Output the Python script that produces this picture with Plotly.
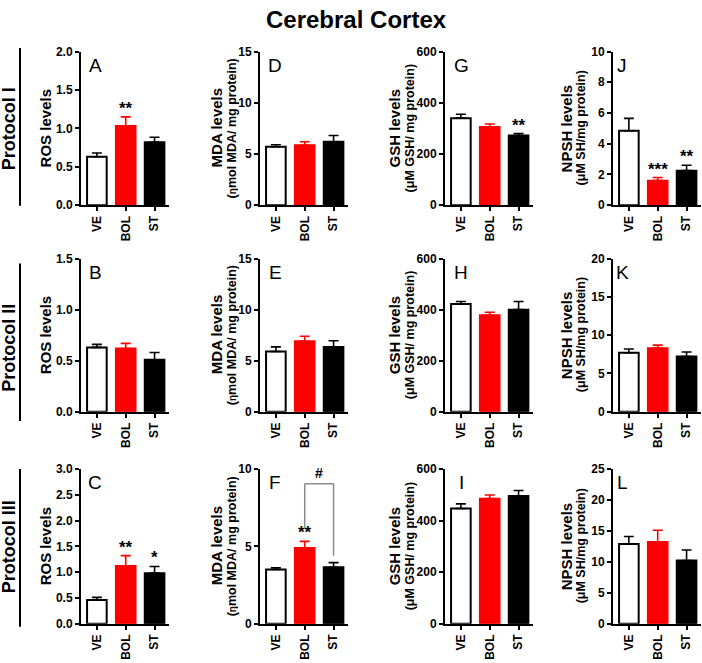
import plotly.graph_objects as go

# ---------------- data ----------------
categories = ["VE", "BOL", "ST"]

# Protocol I
ros_p1 = [0.63, 1.03, 0.82]
ros_p1_err = [0.05, 0.12, 0.065]
mda_p1 = [5.7, 5.85, 6.2]
mda_p1_err = [0.2, 0.35, 0.6]
gsh_p1 = [340, 305, 272]
gsh_p1_err = [15, 12, 8]
npsh_p1 = [4.85, 1.6, 2.25]
npsh_p1_err = [0.8, 0.2, 0.35]

# Protocol II
ros_p2 = [0.63, 0.62, 0.51]
ros_p2_err = [0.03, 0.05, 0.07]
mda_p2 = [5.9, 6.9, 6.35]
mda_p2_err = [0.45, 0.5, 0.6]
gsh_p2 = [422, 378, 400]
gsh_p2_err = [10, 12, 32]
npsh_p2 = [7.7, 8.3, 7.2]
npsh_p2_err = [0.5, 0.4, 0.6]

# Protocol III
ros_p3 = [0.46, 1.12, 0.98]
ros_p3_err = [0.05, 0.2, 0.13]
mda_p3 = [3.5, 4.9, 3.65]
mda_p3_err = [0.12, 0.42, 0.3]
gsh_p3 = [447, 485, 495]
gsh_p3_err = [18, 14, 22]
npsh_p3 = [12.9, 13.2, 10.2]
npsh_p3_err = [1.2, 1.9, 1.7]

# significance marks per panel letter: (category, text)
stars_A = [("BOL", "**")]
stars_G = [("ST", "**")]
stars_J = [("BOL", "***"), ("ST", "**")]
stars_C = [("BOL", "**"), ("ST", "*")]
stars_F = [("BOL", "**")]

protocol_labels = ["Protocol I", "Protocol II", "Protocol III"]
panel_letters = [["A", "D", "G", "J"], ["B", "E", "H", "K"], ["C", "F", "I", "L"]]

# ---------------- layout geometry ----------------
W, H = 702, 663
FONT = "Liberation Sans, Arial, sans-serif"
col_x0 = [81, 260, 445, 613]
col_w = 88
row_top = [45.5, 257, 472]
row_bot = [202.5, 413.5, 630]

bar_fill = ["white", "#ff0000", "black"]
bar_edge = ["black", "#ff0000", "black"]
err_col = ["black", "#ff0000", "black"]


def px(xp):
    return xp / W


def py(yp):
    return 1 - yp / H


# panel spec: (values, errors, ymax, dtick, tickfmt, stars)
grid = [
    [(ros_p1, ros_p1_err, 2.0, 0.5, ".1f", stars_A),
     (mda_p1, mda_p1_err, 15, 5, "d", []),
     (gsh_p1, gsh_p1_err, 600, 200, "d", stars_G),
     (npsh_p1, npsh_p1_err, 10, 2, "d", stars_J)],
    [(ros_p2, ros_p2_err, 1.5, 0.5, ".1f", []),
     (mda_p2, mda_p2_err, 15, 5, "d", []),
     (gsh_p2, gsh_p2_err, 600, 200, "d", []),
     (npsh_p2, npsh_p2_err, 20, 5, "d", [])],
    [(ros_p3, ros_p3_err, 3.0, 0.5, ".1f", stars_C),
     (mda_p3, mda_p3_err, 10, 5, "d", stars_F),
     (gsh_p3, gsh_p3_err, 600, 200, "d", []),
     (npsh_p3, npsh_p3_err, 25, 5, "d", [])],
]

ytitle_main = ["ROS levels", "MDA levels", "GSH levels", "NPSH levels"]
ytitle_sub = [None,
              "(<span style='font-size:10px'>η</span>mol MDA/ mg protein)",
              "(μM GSH/ mg protein)",
              "(μM SH/mg protein)"]
ytitle_x_main = [45, 216, 394, 566]
ytitle_x_sub = [None, 232, 410, 581]
letter_dx = [14, 15, 16, 9]

fig = go.Figure()
layout = dict(
    width=W, height=H,
    margin=dict(l=0, r=0, t=0, b=0),
    paper_bgcolor="white", plot_bgcolor="white",
    showlegend=False, barmode="overlay",
    font=dict(family=FONT, color="black"),
)
annotations = []
shapes = []

n = 0
for r in range(3):
    for c in range(4):
        n += 1
        vals, errs, ymax, dtick, fmt, stars = grid[r][c]
        xa = "x" if n == 1 else f"x{n}"
        ya = "y" if n == 1 else f"y{n}"
        for i, cat in enumerate(categories):
            fig.add_trace(go.Bar(
                x=[cat], y=[vals[i]], width=0.68,
                marker=dict(color=bar_fill[i], line=dict(color=bar_edge[i], width=2)),
                error_y=dict(type="data", array=[errs[i]], arrayminus=[0],
                             symmetric=False, color=err_col[i], thickness=1.6, width=5),
                xaxis=xa, yaxis=ya, hoverinfo="skip",
            ))
        x0 = col_x0[c]
        layout["xaxis" if n == 1 else f"xaxis{n}"] = dict(
            domain=[px(x0), min(px(x0 + col_w), 1.0)],
            anchor=ya, type="category", categoryorder="array", categoryarray=categories,
            range=[-0.55, 2.5], showline=True, linecolor="black", linewidth=2,
            ticks="outside", ticklen=4, tickwidth=1.5, tickcolor="black",
            tickangle=-90, tickfont=dict(family=FONT, size=12, weight="bold"),
            showgrid=False, zeroline=False, fixedrange=True,
        )
        tv = []
        k = 0
        while k * dtick <= ymax + 1e-9:
            tv.append(round(k * dtick, 6))
            k += 1
        layout["yaxis" if n == 1 else f"yaxis{n}"] = dict(
            domain=[py(row_bot[r]), py(row_top[r])],
            anchor=xa, range=[0, ymax], showline=True, linecolor="black", linewidth=2,
            tickvals=tv, ticktext=[format(v, fmt) if fmt != "d" else str(int(v)) for v in tv],
            ticks="outside", ticklen=4, tickwidth=1.5, tickcolor="black",
            tickfont=dict(family=FONT, size=12, weight="bold"),
            showgrid=False, zeroline=False, fixedrange=True,
        )
        # panel letter
        annotations.append(dict(
            xref="paper", yref="paper", x=px(x0 + letter_dx[c]), y=py(row_top[r] + 14),
            text=panel_letters[r][c], showarrow=False, xanchor="center", yanchor="middle",
            font=dict(family=FONT, size=19, color="black"),
        ))
        # significance stars
        for cat, txt in stars:
            i = categories.index(cat)
            annotations.append(dict(
                xref=xa, yref=ya, x=cat, y=vals[i] + errs[i], text=txt,
                showarrow=False, xanchor="center", yanchor="bottom", yshift=-3,
                font=dict(family=FONT, size=17, weight="bold", color="black"),
            ))
        # y-axis titles
        ymid = py((row_top[r] + row_bot[r]) / 2)
        annotations.append(dict(
            xref="paper", yref="paper", x=px(ytitle_x_main[c]), y=ymid,
            text=ytitle_main[c], textangle=-90, showarrow=False,
            xanchor="center", yanchor="middle",
            font=dict(family=FONT, size=15, weight="bold", color="black"),
        ))
        if ytitle_sub[c]:
            annotations.append(dict(
                xref="paper", yref="paper", x=px(ytitle_x_sub[c]), y=ymid,
                text=ytitle_sub[c], textangle=-90, showarrow=False,
                xanchor="center", yanchor="middle",
                font=dict(family=FONT, size=12.5, weight="bold", color="black"),
            ))
        # bracket with '#' in panel F
        if panel_letters[r][c] == "F":
            g = "#8c8c8c"
            shapes.append(dict(type="line", xref=xa, yref=ya, x0=1, x1=1, y0=6.2, y1=9.05,
                               line=dict(color=g, width=1.5)))
            shapes.append(dict(type="line", xref=xa, yref=ya, x0=1, x1=2, y0=9.05, y1=9.05,
                               line=dict(color=g, width=1.5)))
            shapes.append(dict(type="line", xref=xa, yref=ya, x0=2, x1=2, y0=4.4, y1=9.05,
                               line=dict(color=g, width=1.5)))
            annotations.append(dict(
                xref=xa, yref=ya, x=1.5, y=9.05, text="#", showarrow=False,
                xanchor="center", yanchor="bottom", yshift=1,
                font=dict(family=FONT, size=14, weight="bold", color="black"),
            ))

# protocol labels and vertical lines
proto_center = [125, 348, 552]
proto_line = [(42, 203), (262, 423), (472, 633)]
for r in range(3):
    annotations.append(dict(
        xref="paper", yref="paper", x=px(9), y=py(proto_center[r]),
        text=protocol_labels[r], textangle=-90, showarrow=False,
        xanchor="center", yanchor="middle",
        font=dict(family=FONT, size=18, weight="bold", color="black"),
    ))
    shapes.append(dict(type="line", xref="paper", yref="paper",
                       x0=px(20), x1=px(20), y0=py(proto_line[r][0]), y1=py(proto_line[r][1]),
                       line=dict(color="black", width=2)))

# main title
annotations.append(dict(
    xref="paper", yref="paper", x=px(356), y=py(13), text="Cerebral Cortex",
    showarrow=False, xanchor="center", yanchor="middle",
    font=dict(family=FONT, size=24, weight="bold", color="black"),
))

layout["annotations"] = annotations
layout["shapes"] = shapes
fig.update_layout(**layout)
fig.write_html("out.html", config={"displayModeBar": False},
               post_script="document.body.style.margin='0';document.body.style.overflow='hidden';")
